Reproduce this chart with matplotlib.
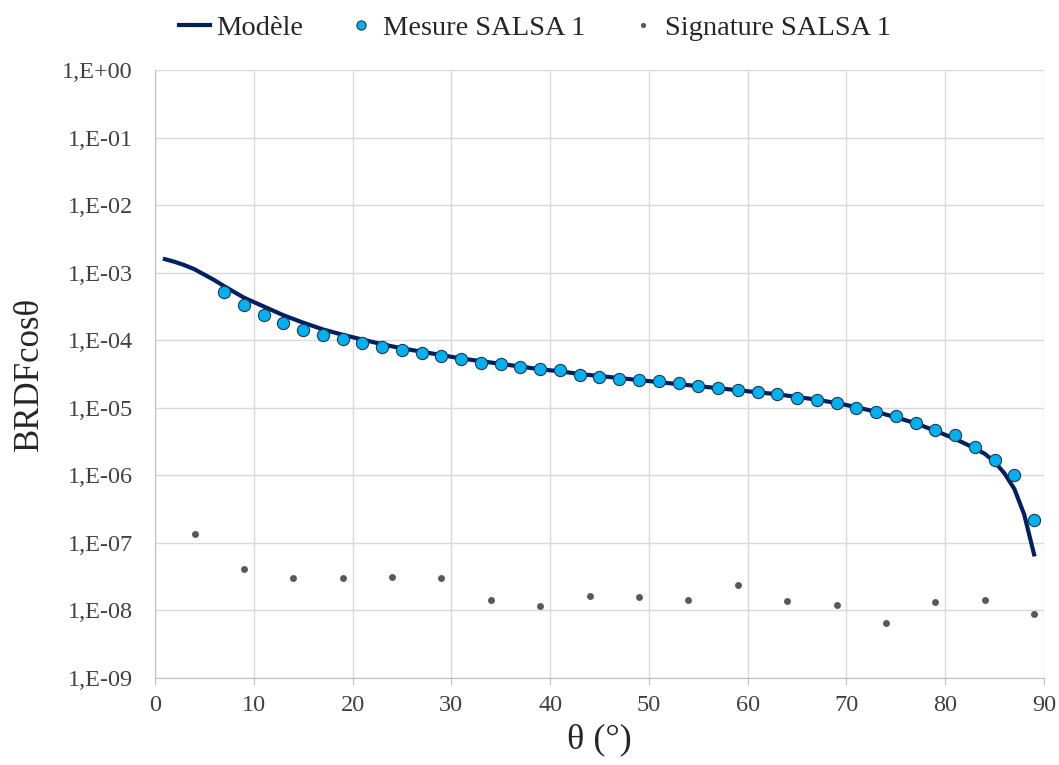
import matplotlib.pyplot as plt
import matplotlib.ticker as mticker
import numpy as np

plt.rcParams['font.family'] = ['Liberation Serif', 'DejaVu Serif']

# model curve (log10 values)
model_theta = [1, 2, 3, 4, 5, 6, 7, 9, 11, 13, 15, 17, 19, 21, 23, 25, 27, 29, 31, 33, 35,
               37, 39, 41, 43, 45, 47, 49, 51, 53, 55, 57, 59, 61, 63, 65, 67, 69,
               71, 73, 75, 77, 79, 81, 83, 84, 85, 86, 87, 88, 89]
model_log = [-2.80, -2.84, -2.89, -2.95, -3.03, -3.11, -3.20, -3.37, -3.50, -3.63, -3.74,
             -3.84, -3.92, -3.99, -4.06, -4.12, -4.17, -4.22, -4.27, -4.31, -4.35, -4.39,
             -4.43, -4.46, -4.50, -4.53, -4.56, -4.59, -4.62, -4.65, -4.68, -4.71, -4.74,
             -4.77, -4.80, -4.84, -4.88, -4.93, -4.99, -5.06, -5.14, -5.23, -5.34,
             -5.46, -5.60, -5.68, -5.80, -5.97, -6.20, -6.58, -7.17]

mesure_theta = list(range(7, 90, 2))
mesure = [5.2e-4, 3.3e-4, 2.4e-4, 1.8e-4, 1.4e-4, 1.19e-4, 1.04e-4, 9.0e-5, 7.9e-5,
          7.1e-5, 6.4e-5, 5.8e-5, 5.2e-5, 4.6e-5, 4.4e-5, 4.0e-5, 3.7e-5, 3.6e-5,
          3.1e-5, 2.9e-5, 2.7e-5, 2.6e-5, 2.5e-5, 2.3e-5, 2.1e-5, 1.94e-5, 1.86e-5,
          1.7e-5, 1.58e-5, 1.38e-5, 1.29e-5, 1.16e-5, 1.0e-5, 8.7e-6, 7.6e-6, 6.0e-6,
          4.7e-6, 3.9e-6, 2.6e-6, 1.7e-6, 1.0e-6, 2.2e-7]

signature_theta = list(range(4, 90, 5))
signature = [1.36e-7, 4.1e-8, 3.0e-8, 3.0e-8, 3.1e-8, 3.0e-8, 1.41e-8, 1.15e-8, 1.62e-8,
             1.56e-8, 1.41e-8, 2.36e-8, 1.36e-8, 1.19e-8, 6.6e-9, 1.32e-8, 1.41e-8, 9.0e-9]

fig = plt.figure(figsize=(10.59, 7.65), dpi=100)
ax = fig.add_axes([0.1464, 0.1137, 0.8394, 0.7948])

ax.plot(model_theta, 10 ** np.array(model_log), color='#002060', lw=3, label='Modèle', zorder=3)
ax.plot(mesure_theta, mesure, 'o', color='#00b0f0', mec='#24394a', mew=0.8, ms=8.8,
        label='Mesure SALSA 1', zorder=4)
ax.plot(signature_theta, signature, 'o', color='#595959', ms=5, mew=0,
        label='Signature SALSA 1', zorder=4)

ax.set_yscale('log')
ax.set_ylim(1e-9, 1)
ax.set_xlim(0, 90)
ax.set_xticks(range(0, 91, 10))
ax.yaxis.set_major_locator(mticker.LogLocator(base=10, numticks=20))
ax.yaxis.set_minor_locator(mticker.NullLocator())
ax.yaxis.set_major_formatter(mticker.FuncFormatter(lambda v, p: '1,E{:+03d}'.format(int(round(np.log10(v))))))

ax.grid(True, color='#d9d9d9', lw=1)
ax.set_axisbelow(True)
for s in ['top', 'right']:
    ax.spines[s].set_visible(False)
for s in ['left', 'bottom']:
    ax.spines[s].set_color('#bfbfbf')
ax.tick_params(axis='y', length=0, labelsize=17.5, labelcolor='#404040', pad=16)
ax.tick_params(axis='x', length=5, color='#bfbfbf', labelsize=17.5, labelcolor='#404040', pad=7)

ax.set_ylabel('BRDFcosθ', fontsize=25, color='#262626')
ax.yaxis.set_label_coords(-0.123, 0.5)
ax.set_xlabel('θ (°)', fontsize=26, color='#262626')
ax.xaxis.set_label_coords(0.5, -0.074)

fig.legend(loc='upper center', bbox_to_anchor=(0.505, 1.014), ncol=3, frameon=False,
           fontsize=20.5, handlelength=1.1, handletextpad=0.2, columnspacing=1.5,
           markerscale=0.75, labelcolor='#262626')

fig.savefig('out.png', dpi=100)
